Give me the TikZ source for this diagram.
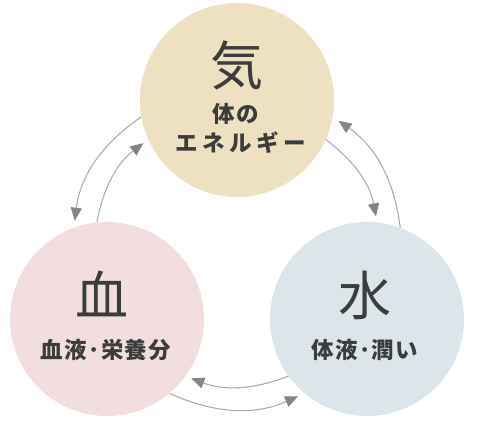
\documentclass[tikz,border=0pt]{standalone}
\usepackage{fontspec}
\newfontfamily\jp{Noto Sans CJK JP}
\usetikzlibrary{arrows.meta}
\definecolor{kicol}{HTML}{EDE1C1}
\definecolor{ketsucol}{HTML}{F2DEDF}
\definecolor{suicol}{HTML}{DCE6EA}
\definecolor{txt}{HTML}{3C3C3C}
\definecolor{linegray}{HTML}{ADADAD}
\definecolor{tipgray}{HTML}{858585}
\begin{document}
\begin{tikzpicture}[x=1pt,y=1pt,
  circ/.style={circle,minimum size=194pt,inner sep=0pt},
  big/.style={font=\jp\fontsize{53}{53}\selectfont,text=txt,inner sep=0pt},
  small/.style={font=\jp\bfseries\fontsize{22.5}{22.5}\selectfont,text=txt,inner sep=0pt},
  flow/.style={draw=linegray,line width=1.1pt,
    -{Triangle[length=13pt,width=11pt,color=tipgray]}}]
  \useasboundingbox (0,0) rectangle (478,420);
  \node[circ,fill=kicol] (ki) at (237,320) {};
  \node[circ,fill=ketsucol] (ketsu) at (107,101) {};
  \node[circ,fill=suicol] (sui) at (367,101) {};
  % texts
  \node[big] (kiname) at (237,354) {気};
  \node[small] (kitext) at (236,306) {\addfontfeature{LetterSpace=6}体の};
  \node[small] (kitextb) at (241,277) {\addfontfeature{LetterSpace=20}エネルギー};
  \node[big] (ketsuname) at (102,126) {血};
  \node[small] (ketsutext) at (106,70) {\addfontfeature{LetterSpace=6}血液･栄養分};
  \node[big] (suiname) at (365,125) {水};
  \node[small] (suitext) at (365,70) {\addfontfeature{LetterSpace=6}体液･潤い};
  % arrows
  \draw[flow,shorten >=7pt] (ki.190) to[bend right=24] (ketsu.110);
  \draw[flow,shorten >=6pt] (ketsu.96) to[bend left=21] (ki.204);
  \draw[flow,shorten >=7pt] (sui.70) to[bend right=24] (ki.350);
  \draw[flow,shorten >=6pt] (ki.336) to[bend left=21] (sui.84);
  \draw[flow,shorten >=7pt] (ketsu.310) to[bend right=24] (sui.230);
  \draw[flow,shorten >=6pt] (sui.216) to[bend left=21] (ketsu.324);
\end{tikzpicture}
\end{document}
